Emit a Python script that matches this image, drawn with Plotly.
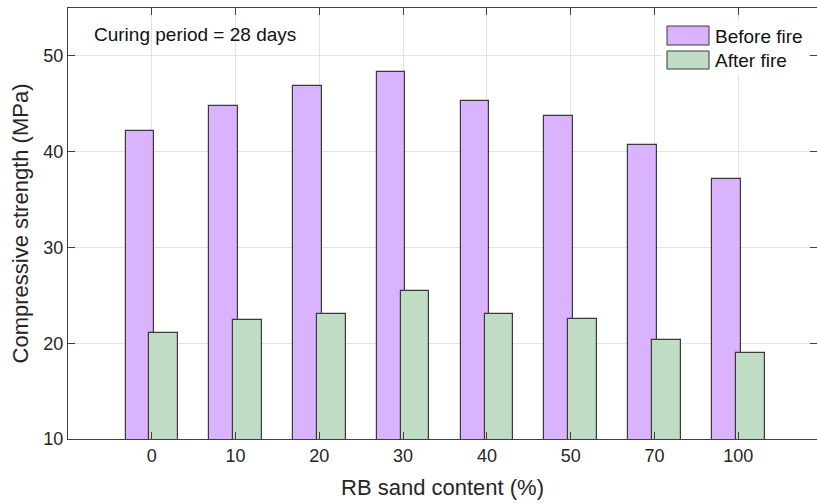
import plotly.graph_objects as go

categories = ["0", "10", "20", "30", "40", "50", "70", "100"]
before_fire = [42.2, 44.8, 46.9, 48.3, 45.3, 43.7, 40.7, 37.1]
after_fire = [21.1, 22.4, 23.1, 25.5, 23.1, 22.5, 20.3, 19.0]
y_ticks = [10, 20, 30, 40, 50]

W, H = 817, 504
L, R, T, B = 68, 0, 8, 65
idx = list(range(len(categories)))

FONT = "Liberation Sans, Arial, Helvetica, sans-serif"
PURPLE = "#d9b3fe"
GREEN = "#c1dcc5"
EDGE = "#3a3a3a"
AX = "#404040"

bw = 0.341
shift = 0.143

fig = go.Figure()
fig.add_trace(go.Bar(x=idx, y=before_fire, name="Before fire", width=bw,
                     offset=-shift - bw / 2, marker=dict(color=PURPLE, line=dict(color=EDGE, width=1.2))))
fig.add_trace(go.Bar(x=idx, y=after_fire, name="After fire", width=bw,
                     offset=shift - bw / 2, marker=dict(color=GREEN, line=dict(color=EDGE, width=1.2))))

pw, ph = W - L - R, H - T - B


def px(x):
    return (x - L) / pw


def py(y):
    return (H - B - y) / ph


# custom legend
shapes = [
    dict(type="rect", xref="paper", yref="paper", x0=px(662), x1=px(808), y0=py(74), y1=py(22),
         fillcolor="white", line=dict(width=0), layer="above"),
    dict(type="rect", xref="paper", yref="paper", x0=px(667), x1=px(709), y0=py(45), y1=py(26),
         fillcolor=PURPLE, line=dict(color=EDGE, width=1), layer="above"),
    dict(type="rect", xref="paper", yref="paper", x0=px(667), x1=px(709), y0=py(69), y1=py(51),
         fillcolor=GREEN, line=dict(color=EDGE, width=1), layer="above"),
]
annotations = [
    dict(text="Before fire", xref="paper", yref="paper", x=px(713), y=py(36), xanchor="left",
         yanchor="middle", showarrow=False, font=dict(size=19, color="#111", family=FONT)),
    dict(text="After fire", xref="paper", yref="paper", x=px(713), y=py(60), xanchor="left",
         yanchor="middle", showarrow=False, font=dict(size=19, color="#111", family=FONT)),
    dict(text="Curing period = 28 days", xref="paper", yref="paper", x=px(92), y=py(34),
         xanchor="left", yanchor="middle", showarrow=False,
         font=dict(size=19, color="#111", family=FONT)),
]

fig.update_layout(
    width=W, height=H,
    margin=dict(l=L, r=R, t=T, b=B, autoexpand=False),
    paper_bgcolor="white", plot_bgcolor="white",
    barmode="overlay", bargap=0,
    showlegend=False,
    font=dict(family=FONT, color="#262626"),
    shapes=shapes, annotations=annotations,
    xaxis=dict(
        range=[-1, 7.94], tickmode="array", tickvals=idx, ticktext=categories,
        ticks="inside", ticklen=7, tickcolor=AX, tickwidth=1,
        showline=True, linecolor=AX, linewidth=1.2, mirror="ticks",
        showgrid=True, gridcolor="#e3e3e3", gridwidth=1, zeroline=False,
        tickfont=dict(size=18, color="#262626"),
        title=dict(text="RB sand content (%)", font=dict(size=22, color="#262626"), standoff=14),
    ),
    yaxis=dict(
        range=[10, 55], tickmode="array", tickvals=y_ticks,
        ticks="inside", ticklen=7, tickcolor=AX, tickwidth=1,
        showline=True, linecolor=AX, linewidth=1.2, mirror="ticks",
        showgrid=True, gridcolor="#e3e3e3", gridwidth=1, zeroline=False,
        tickfont=dict(size=18, color="#262626"),
        title=dict(text="Compressive strength (MPa)", font=dict(size=22, color="#262626"), standoff=8),
    ),
)

fig.write_html("out.html", config={"displayModeBar": False},
               post_script="document.body.style.margin='0';document.body.style.overflow='hidden';")
